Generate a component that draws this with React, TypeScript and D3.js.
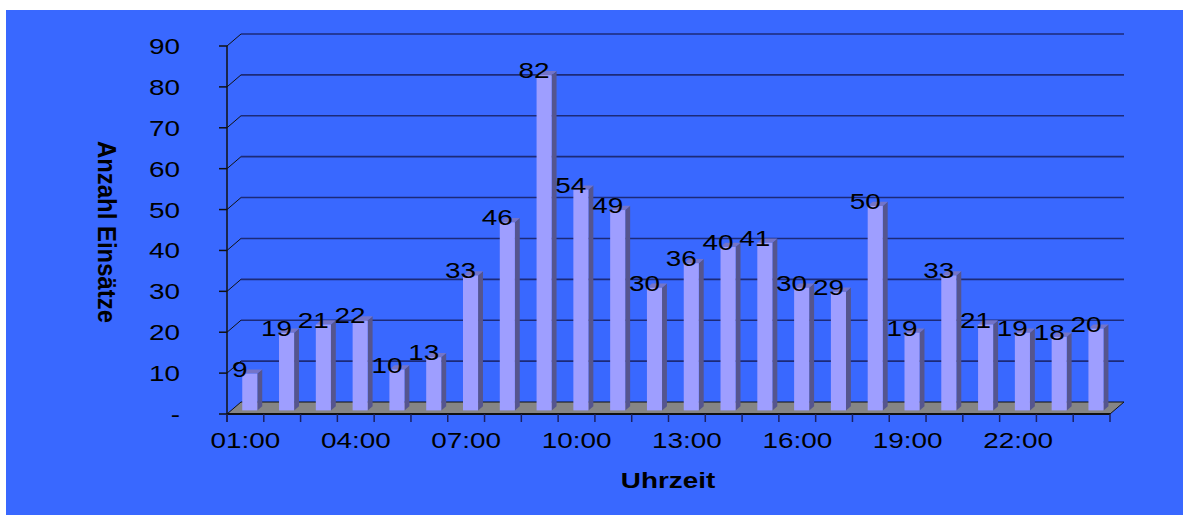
import * as d3 from "d3";

// hours 01:00 .. 24:00
const hours: string[] = d3.range(1, 25).map(h => (h < 10 ? "0" : "") + h + ":00");
const counts: number[] = [9, 19, 21, 22, 10, 13, 33, 46, 82, 54, 49, 30, 36, 40, 41, 30, 29, 50, 19, 33, 21, 19, 18, 20];
const yTicks: number[] = [0, 10, 20, 30, 40, 50, 60, 70, 80, 90];
const xLabelHours: string[] = ["01:00", "04:00", "07:00", "10:00", "13:00", "16:00", "19:00", "22:00"];

const W = 1183;
const H = 515;
const FONT = "'Liberation Sans', Arial, sans-serif";
const SX = 1.24; // the original picture is stretched sideways

// 3d depth of the plot box
const DX = 14;
const DY = -12;

export default function App() {
    const x = d3.scaleBand<string>().domain(hours).range([227, 1110]);
    const y = d3.scaleLinear().domain([0, 90]).range([414, 46]);
    const bw = x.bandwidth();

    // bar sits inside the depth from z0 to z0 + zd
    const z0 = 0.3;
    const zd = 0.35;
    const barW = bw * 0.41;

    const txt = (s: string, tx: number, ty: number, anchor: string, size: number, bold = false, key?: string) => (
        <text
            key={key}
            transform={`translate(${tx},${ty}) scale(${SX},1)`}
            textAnchor={anchor}
            fontFamily={FONT}
            fontSize={size}
            fontWeight={bold ? "bold" : "normal"}
            fill="#000"
        >
            {s}
        </text>
    );

    return (
        <svg width={W} height={H} style={{ position: "absolute", left: 0, top: 0 }}>
            <rect x={0} y={0} width={W} height={H} fill="#fff" />
            <rect x={6} y={10} width={W - 6} height={H - 10} fill="#3968ff" />

            {/* gridlines */}
            {yTicks.filter(t => t > 0).map(t => (
                <g key={"g" + t}>
                    <line x1={227} y1={y(t)} x2={227 + DX} y2={y(t) + DY} stroke="#111" strokeWidth={1} />
                    <line x1={227 + DX} y1={y(t) + DY} x2={1110 + DX} y2={y(t) + DY} stroke="#1c2a78" strokeWidth={1.6} />
                </g>
            ))}

            {/* floor */}
            <polygon
                points={`227,${y(0)} 1110,${y(0)} ${1110 + DX},${y(0) + DY} ${227 + DX},${y(0) + DY}`}
                fill="#858585"
                stroke="#111"
                strokeWidth={1}
            />
            <line x1={227} y1={y(0)} x2={1110} y2={y(0)} stroke="#111" strokeWidth={2} />

            {/* y axis */}
            <line x1={227} y1={y(90)} x2={227} y2={y(0) + 8} stroke="#111" strokeWidth={1.5} />
            {yTicks.map(t => (
                <line key={"yt" + t} x1={219} y1={y(t)} x2={227} y2={y(t)} stroke="#111" strokeWidth={1.5} />
            ))}
            {yTicks.map(t => txt(t === 0 ? "-" : String(t), 180, y(t) + 8, "end", 22.5, false, "yl" + t))}

            {/* x ticks */}
            {d3.range(0, 25).map(i => {
                const xx = 227 + i * bw;
                return <line key={"xt" + i} x1={xx} y1={y(0)} x2={xx} y2={y(0) + 8} stroke="#1a2060" strokeWidth={1.5} />;
            })}
            {xLabelHours.map(h => txt(h, (x(h) as number) + bw / 2, 448, "middle", 22.5, false, "xl" + h))}

            {/* bars */}
            {hours.map((h, i) => {
                const v = counts[i];
                const left = (x(h) as number) + bw * z0 + DX * z0;
                const base = y(0) + DY * z0;
                const top = y(v) + DY * z0;
                const ddx = DX * zd;
                const ddy = DY * zd;
                return (
                    <g key={"b" + h}>
                        <polygon
                            points={`${left + barW},${base} ${left + barW + ddx},${base + ddy} ${left + barW + ddx},${top + ddy} ${left + barW},${top}`}
                            fill="#55558e"
                        />
                        <polygon
                            points={`${left},${top} ${left + barW},${top} ${left + barW + ddx},${top + ddy} ${left + ddx},${top + ddy}`}
                            fill="#7474c8"
                        />
                        <rect x={left} y={top} width={barW} height={base - top} fill="#9e9eff" />
                    </g>
                );
            })}

            {/* value labels */}
            {hours.map((h, i) => {
                const left = (x(h) as number) + bw * z0 + DX * z0;
                const top = y(counts[i]) + DY * z0;
                return txt(String(counts[i]), left - 2.5, top + 3, "middle", 22.5, false, "vl" + h);
            })}

            {/* axis titles */}
            {txt("Uhrzeit", 668, 488, "middle", 22.5, true)}
            <text
                transform={`translate(98,232) rotate(90)`}
                textAnchor="middle"
                fontFamily={FONT}
                fontSize={25}
                fontWeight="bold"
                textLength={182}
                lengthAdjust="spacingAndGlyphs"
                fill="#000"
            >
                Anzahl Einsätze
            </text>
        </svg>
    );
}
